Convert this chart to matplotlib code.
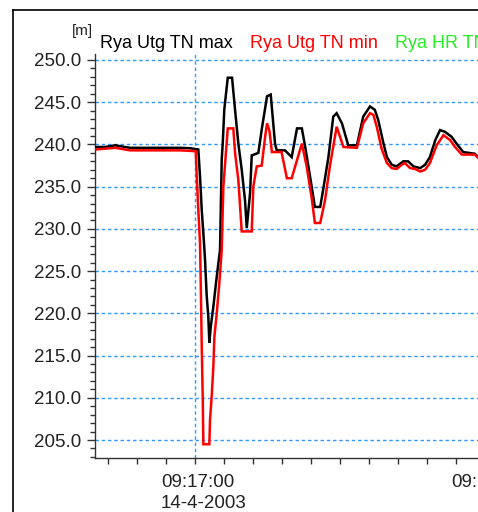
import matplotlib
matplotlib.use("Agg")
import matplotlib.pyplot as plt
from matplotlib.lines import Line2D
from matplotlib.ticker import FixedLocator, MultipleLocator, FuncFormatter, NullFormatter
from matplotlib.transforms import blended_transform_factory

plt.rcParams["font.family"] = ["Liberation Sans", "DejaVu Sans"]

# seconds relative to 09:17:00 on 14-4-2003
t_max = [-20.7, -18.6, -16.5, -14.5, -13.4, -7.2, -3.1, -1.0, 0.68, 1.03, 1.39, 1.86,
         2.07, 2.42, 2.75, 2.96, 3.25, 3.79, 4.34, 4.82, 5.17, 5.52, 5.73, 6.05, 6.77,
         7.66, 8.28, 8.96, 9.66, 10.34, 10.7, 11.38, 11.73, 13.1, 13.86, 14.9, 15.66,
         16.55, 16.9, 18.6, 20.0, 21.1, 22.1, 22.8, 23.8, 24.8, 25.9, 26.5, 27.6, 28.6,
         29.3, 30.4, 31.7, 33.5, 34.8, 36.2, 37.2, 37.9, 39.0, 39.7, 40.7, 41.7, 43.1,
         44.1, 45.2, 46.6, 47.6, 48.6, 49.7, 50.7, 51.7, 53.1, 54.1, 55.5, 57.9, 58.6, 60.0]
v_max = [239.7, 239.7, 239.9, 239.7, 239.6, 239.6, 239.6, 239.55, 239.4, 236.2, 232.2, 228.3,
         226.3, 222.0, 219.6, 216.5, 218.4, 220.8, 223.6, 225.9, 227.5, 238.2, 240.1, 244.1, 247.9,
         247.9, 244.1, 240.1, 237.0, 233.4, 230.1, 234.2, 238.7, 239.0, 242.0, 245.7, 245.9,
         240.1, 239.3, 239.3, 238.5, 241.9, 241.9, 239.7, 236.2, 232.6, 232.6, 234.6, 238.5, 243.3,
         243.7, 242.5, 239.9, 239.9, 243.3, 244.5, 244.1, 242.9, 240.1, 238.5, 237.6, 237.4, 238.0,
         238.0, 237.4, 237.2, 237.6, 238.5, 240.5, 241.7, 241.5, 240.9, 240.1, 239.1, 238.9, 238.5, 238.4]

t_min = [-20.7, -16.5, -13.4, -3.1, 0.14, 0.35, 0.68, 1.03, 1.18, 1.39, 1.59, 1.72, 2.96,
         3.1, 3.46, 3.79, 4.0, 4.49, 5.03, 5.32, 5.52, 5.86, 6.77, 7.92, 8.28, 8.96, 9.66,
         11.73, 12.06, 12.77, 13.8, 14.5, 14.9, 15.4, 15.9, 17.9, 19.0, 20.0, 22.1, 23.1,
         24.1, 24.8, 25.9, 26.9, 27.9, 29.3, 30.7, 33.5, 34.8, 36.2, 36.9, 37.6, 38.6, 39.7,
         40.7, 41.7, 42.8, 43.4, 44.5, 45.5, 46.6, 47.6, 48.6, 50.0, 51.4, 52.8, 53.8, 55.2,
         57.9, 58.6, 60.0]
v_min = [239.4, 239.6, 239.3, 239.3, 239.2, 236.2, 232.2, 228.3, 223.6, 216.0, 210.1, 204.5, 204.5,
         207.4, 210.3, 213.7, 217.2, 220.0, 223.6, 225.9, 227.5, 235.0, 241.9, 241.9, 239.0, 235.8, 229.7,
         229.7, 235.0, 237.4, 237.5, 240.9, 242.5, 241.6, 239.1, 239.1, 236.0, 236.0, 240.1, 237.4,
         233.8, 230.7, 230.7, 233.4, 237.4, 242.1, 239.7, 239.6, 242.5, 243.7, 243.5, 242.1, 239.5, 237.8,
         237.2, 237.1, 237.6, 237.8, 237.2, 237.1, 236.8, 237.0, 237.8, 239.9, 241.1, 240.5, 239.7, 238.8,
         238.8, 238.4, 238.3]

series_names = ["Rya Utg TN max", "Rya Utg TN min", "Rya HR TN"]
series_colors = ["#000000", "#ff0000", "#22ee22"]
unit_label = "[m]"
major_times = [0, 60]
major_labels = ["09:17:00", "09:18:00"]
date_label = "14-4-2003"

W, H = 478, 512
fig = plt.figure(figsize=(W / 100, H / 100), dpi=100)
fig.patch.set_facecolor("white")

# outer frame (left and top edges visible)
fig.add_artist(Line2D([13 / W, 13 / W], [0, 1 - 10 / H], color="black", lw=1.2))
fig.add_artist(Line2D([13 / W, 1], [1 - 10 / H, 1 - 10 / H], color="black", lw=1.2))

ax = fig.add_axes([95 / W, 54 / H, (520 - 95) / W, (458 - 54) / H])
ax.set_xlim(-20.7, (520 - 195) * 6 / 29)
ax.set_ylim(202.87, 250.71)

ax.plot(t_max, v_max, color=series_colors[0], lw=1.8, solid_joinstyle="miter", zorder=3)
ax.plot(t_min, v_min, color=series_colors[1], lw=1.8, solid_joinstyle="miter", zorder=4)

for s in ["top", "right"]:
    ax.spines[s].set_visible(False)
for s in ["left", "bottom"]:
    ax.spines[s].set_color("#333333")
    ax.spines[s].set_linewidth(1.0)

ax.yaxis.set_major_locator(MultipleLocator(5))
ax.yaxis.set_minor_locator(MultipleLocator(1))
ax.yaxis.set_major_formatter(FuncFormatter(lambda v, p: f"{v:.1f}"))

ax.xaxis.set_major_locator(FixedLocator(major_times))
ax.xaxis.set_minor_locator(MultipleLocator(6))
ax.xaxis.set_major_formatter(NullFormatter())

ax.tick_params(axis="y", which="major", length=6, width=1, color="#333333",
               labelsize=13.5, labelcolor="#222222", pad=4)
ax.tick_params(axis="y", which="minor", length=3.5, width=1, color="#333333")
ax.tick_params(axis="x", which="both", length=4, width=1, color="#333333")

ax.grid(True, which="major", color="#3399ff", lw=1.0, linestyle=(0, (2.5, 2)))

# time labels under the major ticks, date under the first one
tr = blended_transform_factory(ax.transData, fig.transFigure)
for tm, lab in zip(major_times, major_labels):
    ax.text(tm + 0.5, 1 - 487 / H, lab, transform=tr, ha="center", va="baseline",
            fontsize=13.5, color="#222222", clip_on=False)
fig.text(161 / W, 1 - 508 / H, date_label, ha="left", va="baseline", fontsize=13.5, color="#222222")

fig.text(93 / W, 1 - 24 / H, unit_label, ha="right", va="top", fontsize=11, color="#222222")
fig.text(100 / W, 1 - 48 / H, series_names[0], ha="left", va="baseline", fontsize=13, color=series_colors[0])
fig.text(250 / W, 1 - 48 / H, series_names[1], ha="left", va="baseline", fontsize=13, color=series_colors[1])
fig.text(395 / W, 1 - 48 / H, series_names[2], ha="left", va="baseline", fontsize=13, color=series_colors[2])

fig.savefig("out.png", dpi=100)
